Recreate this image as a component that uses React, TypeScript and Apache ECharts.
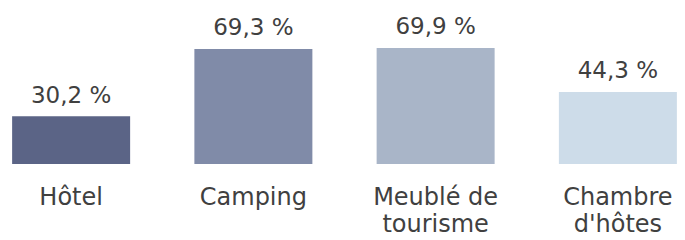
import React, { useEffect, useRef } from "react";
import * as echarts from "echarts";

const categories = ["Hôtel", "Camping", "Meublé de\ntourisme", "Chambre\nd'hôtes"];
const values = [30.2, 69.3, 69.9, 44.3];
const barColors = ["#5b6486", "#808ba8", "#a9b5c8", "#cddce9"];

export default function App() {
  const ref = useRef<HTMLDivElement>(null);
  useEffect(() => {
    if (!ref.current) return;
    const chart = echarts.init(ref.current, null, { renderer: "svg" });
    chart.setOption({
      animation: false,
      backgroundColor: "#ffffff",
      grid: { left: 0, right: 0, top: 0, bottom: 76 },
      xAxis: {
        type: "category",
        data: categories,
        axisLine: { show: false },
        axisTick: { show: false },
        axisLabel: {
          color: "#404040",
          fontFamily: "DejaVu Sans",
          fontSize: 24,
          lineHeight: 27,
          margin: 19,
          interval: 0,
        },
      },
      yAxis: {
        type: "value",
        min: 2.4,
        max: 97.8,
        show: false,
        splitLine: { show: false },
      },
      series: [
        {
          type: "bar",
          barWidth: 118,
          data: values.map((v, i) => ({ value: v, itemStyle: { color: barColors[i] } })),
          label: {
            show: true,
            position: "top",
            distance: 10,
            color: "#404040",
            fontFamily: "DejaVu Sans",
            fontSize: 23,
            formatter: (p: any) => String(p.value).replace(".", ",") + " %",
          },
        },
      ],
    });
    return () => chart.dispose();
  }, []);
  return (
    <div style={{ position: "fixed", left: 0, top: 0, width: 685, height: 240, overflow: "hidden", background: "#fff" }}>
      <div
        ref={ref}
        style={{ position: "absolute", left: -20, top: 0, width: 729, height: 240 }}
      />
    </div>
  );
}
